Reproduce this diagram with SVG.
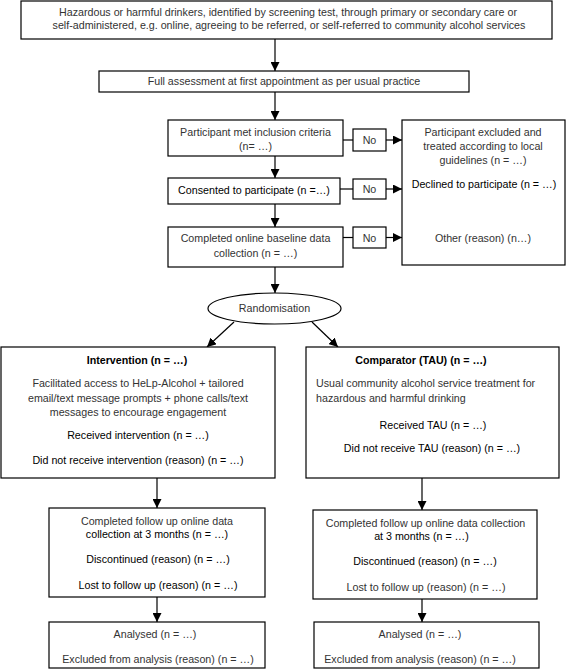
<svg xmlns="http://www.w3.org/2000/svg" width="568" height="671" viewBox="0 0 568 671">
<defs>
<marker id="ah" markerWidth="9" markerHeight="9" refX="9" refY="4.5" orient="auto" markerUnits="userSpaceOnUse">
<path d="M0,0 L9,4.5 L0,9 Z" fill="#000"/>
</marker>
<style>
rect, ellipse { fill: #fff; stroke: #000; stroke-width: 1.2; }
text { font-family: "Liberation Sans", Arial, sans-serif; font-size: 10.7px; fill: #333; text-anchor: middle; }
.k { fill: #000; }
.b { font-weight: bold; fill: #000; }
.l { text-anchor: start; }
.c line { stroke: #000; stroke-width: 1.2; fill: none; }
</style>
</defs>
<rect x="0" y="0" width="568" height="671" style="fill:#fff;stroke:none"/>
<g class="c" id="connectors">
<line x1="275" y1="39" x2="275" y2="71" marker-end="url(#ah)"/>
<line x1="275" y1="92" x2="275" y2="120" marker-end="url(#ah)"/>
<line x1="275" y1="156" x2="275" y2="178" marker-end="url(#ah)"/>
<line x1="275" y1="204" x2="275" y2="227" marker-end="url(#ah)"/>
<line x1="275" y1="267" x2="275" y2="293" marker-end="url(#ah)"/>
<line x1="343" y1="140" x2="353" y2="140"/>
<line x1="386" y1="140" x2="402" y2="140" marker-end="url(#ah)"/>
<line x1="340" y1="189" x2="353" y2="189"/>
<line x1="386" y1="189" x2="402" y2="189" marker-end="url(#ah)"/>
<line x1="343" y1="237.5" x2="353" y2="237.5"/>
<line x1="386" y1="237.5" x2="402" y2="237.5" marker-end="url(#ah)"/>
<line x1="234" y1="322" x2="207" y2="347" marker-end="url(#ah)"/>
<line x1="312" y1="322" x2="338" y2="347" marker-end="url(#ah)"/>
<line x1="157" y1="478" x2="157" y2="508" marker-end="url(#ah)"/>
<line x1="157" y1="597" x2="157" y2="622" marker-end="url(#ah)"/>
<line x1="422" y1="478" x2="422" y2="510" marker-end="url(#ah)"/>
<line x1="422" y1="599" x2="422" y2="622" marker-end="url(#ah)"/>
</g>
<g id="n-top">
<rect x="21" y="1" width="531" height="38"/>
<text x="288" y="16">Hazardous or harmful drinkers, identified by screening test, through primary or secondary care or</text>
<text x="289" y="29">self-administered, e.g. online, agreeing to be referred, or self-referred to community alcohol services</text>
</g>
<g id="n-assess">
<rect x="99" y="71" width="370" height="21"/>
<text x="284" y="85">Full assessment at first appointment as per usual practice</text>
</g>
<g id="n-incl">
<rect x="168" y="120" width="175" height="36"/>
<text x="255.5" y="136">Participant met inclusion criteria</text>
<text x="255.5" y="150">(n= …)</text>
</g>
<g id="n-no1"><rect x="353" y="129" width="33" height="22"/><text x="369.5" y="144">No</text></g>
<g id="n-consent">
<rect x="168" y="178" width="172" height="26"/>
<text x="254" y="194" class="k">Consented to participate (n =…)</text>
</g>
<g id="n-no2"><rect x="353" y="179" width="33" height="20"/><text x="369.5" y="193">No</text></g>
<g id="n-base">
<rect x="168" y="227" width="175" height="40"/>
<text x="255.5" y="242">Completed online baseline data</text>
<text x="255.5" y="257">collection (n = …)</text>
</g>
<g id="n-no3"><rect x="353" y="227" width="33" height="21"/><text x="369.5" y="241.5">No</text></g>
<g id="n-excl">
<rect x="402" y="120" width="163" height="145"/>
<text x="483" y="136">Participant excluded and</text>
<text x="483" y="150">treated according to local</text>
<text x="483" y="164">guidelines (n = …)</text>
<text x="484" y="188" class="k">Declined to participate (n = …)</text>
<text x="483" y="242">Other (reason) (n…)</text>
</g>
<g id="n-rand">
<ellipse cx="274.5" cy="308.5" rx="66.5" ry="15.5"/>
<text x="274.5" y="312">Randomisation</text>
</g>
<g id="n-int">
<rect x="1" y="347" width="274" height="131"/>
<text x="137" y="364" class="b">Intervention (n = …)</text>
<text x="138" y="387">Facilitated access to HeLp-Alcohol + tailored</text>
<text x="138" y="402">email/text message prompts + phone calls/text</text>
<text x="138" y="416">messages to encourage engagement</text>
<text x="138" y="439" class="k">Received intervention (n = …)</text>
<text x="138" y="464" class="k">Did not receive intervention (reason) (n = …)</text>
</g>
<g id="n-comp">
<rect x="306" y="347" width="253" height="131"/>
<text x="421" y="364" class="b">Comparator (TAU) (n = …)</text>
<text x="316" y="387" class="l">Usual community alcohol service treatment for</text>
<text x="316" y="402" class="l">hazardous and harmful drinking</text>
<text x="433" y="429" class="k">Received TAU (n = …)</text>
<text x="432" y="452" class="k">Did not receive TAU (reason) (n = …)</text>
</g>
<g id="n-fu1">
<rect x="49" y="508" width="216" height="89"/>
<text x="157" y="525">Completed follow up online data</text>
<text x="157" y="538" class="k">collection at 3 months (n = …)</text>
<text x="158" y="563" class="k">Discontinued (reason) (n = …)</text>
<text x="158" y="589" class="k">Lost to follow up (reason) (n = …)</text>
</g>
<g id="n-an1">
<rect x="49" y="622" width="216" height="46"/>
<text x="155" y="638">Analysed (n = …)</text>
<text x="158" y="663">Excluded from analysis (reason) (n = …)</text>
</g>
<g id="n-fu2">
<rect x="313" y="510" width="224" height="89"/>
<text x="425.5" y="527">Completed follow up online data collection</text>
<text x="421.5" y="540" class="k">at 3 months (n = …)</text>
<text x="425" y="565" class="k">Discontinued (reason) (n = …)</text>
<text x="426" y="591">Lost to follow up (reason) (n = …)</text>
</g>
<g id="n-an2">
<rect x="314" y="622" width="225" height="46"/>
<text x="420" y="638">Analysed (n = …)</text>
<text x="420" y="663">Excluded from analysis (reason) (n = …)</text>
</g>
</svg>
